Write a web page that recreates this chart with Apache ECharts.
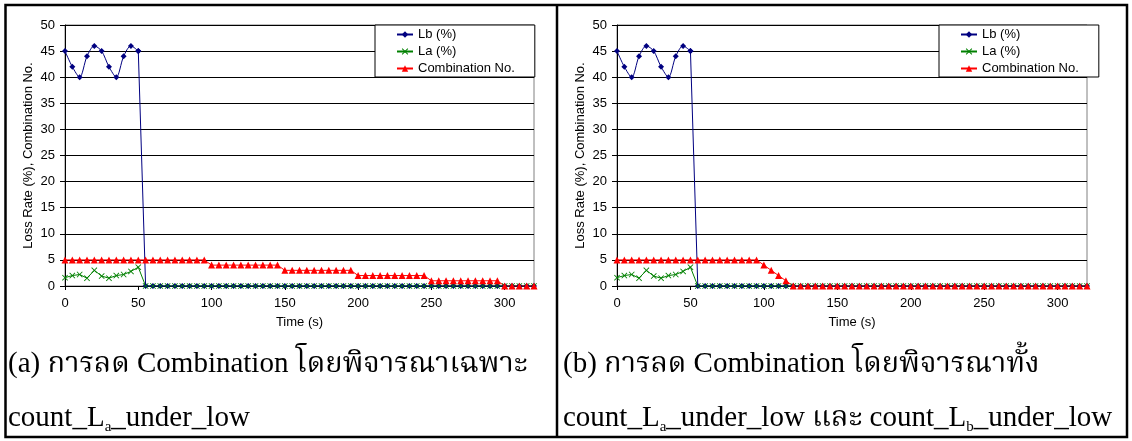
<!DOCTYPE html>
<html>
<head>
<meta charset="utf-8">
<script src="https://cdn.jsdelivr.net/npm/echarts/dist/echarts.min.js"></script>
<style>
  html, body { margin: 0; padding: 0; background: #ffffff; }
  #chart { width: 1132px; height: 441px; }
</style>
</head>
<body>
<div id="chart"></div>
<script>
// Sample times (s)
const timeSec = [0, 5, 10, 15, 20, 25, 30, 35, 40, 45, 50, 55, 60, 65, 70, 75, 80, 85, 90, 95,
  100, 105, 110, 115, 120, 125, 130, 135, 140, 145, 150, 155, 160, 165, 170, 175, 180, 185, 190, 195,
  200, 205, 210, 215, 220, 225, 230, 235, 240, 245, 250, 255, 260, 265, 270, 275, 280, 285, 290, 295,
  300, 305, 310, 315, 320];

// Loss rate of Lb (%)
const lbLoss = [45, 42, 40, 44, 46, 45, 42, 40, 44, 46, 45, 0, 0, 0, 0, 0, 0, 0, 0, 0,
  0, 0, 0, 0, 0, 0, 0, 0, 0, 0, 0, 0, 0, 0, 0, 0, 0, 0, 0, 0,
  0, 0, 0, 0, 0, 0, 0, 0, 0, 0, 0, 0, 0, 0, 0, 0, 0, 0, 0, 0,
  0, 0, 0, 0, 0];

// Loss rate of La (%)
const laLoss = [1.6, 2.0, 2.2, 1.5, 3.0, 1.9, 1.5, 2.0, 2.2, 2.8, 3.6, 0, 0, 0, 0, 0, 0, 0, 0, 0,
  0, 0, 0, 0, 0, 0, 0, 0, 0, 0, 0, 0, 0, 0, 0, 0, 0, 0, 0, 0,
  0, 0, 0, 0, 0, 0, 0, 0, 0, 0, 0, 0, 0, 0, 0, 0, 0, 0, 0, 0,
  0, 0, 0, 0, 0];

// Combination number, (a) reduced on count_La_under_low only
const comboA = [5, 5, 5, 5, 5, 5, 5, 5, 5, 5, 5, 5, 5, 5, 5, 5, 5, 5, 5, 5,
  4, 4, 4, 4, 4, 4, 4, 4, 4, 4, 3, 3, 3, 3, 3, 3, 3, 3, 3, 3,
  2, 2, 2, 2, 2, 2, 2, 2, 2, 2, 1, 1, 1, 1, 1, 1, 1, 1, 1, 1,
  0, 0, 0, 0, 0];

// Combination number, (b) reduced on both count_La_under_low and count_Lb_under_low
const comboB = [5, 5, 5, 5, 5, 5, 5, 5, 5, 5, 5, 5, 5, 5, 5, 5, 5, 5, 5, 5,
  4, 3, 2, 1, 0, 0, 0, 0, 0, 0, 0, 0, 0, 0, 0, 0, 0, 0, 0, 0,
  0, 0, 0, 0, 0, 0, 0, 0, 0, 0, 0, 0, 0, 0, 0, 0, 0, 0, 0, 0,
  0, 0, 0, 0, 0];

const seriesNames = ['Lb (%)', 'La (%)', 'Combination No.'];

// Captions: [style, text] fragments; n = normal text, s = subscript
const captionA1 = [['n', '(a) การลด Combination โดยพิจารณาเฉพาะ']];
const captionA2 = [['n', 'count_L'], ['s', 'a'], ['n', '_under_low']];
const captionB1 = [['n', '(b) การลด Combination โดยพิจารณาทั้ง']];
const captionB2 = [['n', 'count_L'], ['s', 'a'], ['n', '_under_low และ count_L'], ['s', 'b'], ['n', '_under_low']];

const SANS = 'Arial, "Liberation Sans", sans-serif';
const SERIF = '"Times New Roman", "Liberation Serif", "Noto Serif Thai", "Angsana New", serif';
const xSymbol = 'path://M0,1L1,0L5,4L9,0L10,1L6,5L10,9L9,10L5,6L1,10L0,9L4,5Z';

const pairs = (vals, from, to) => timeSec.slice(from, to).map((t, i) => [t, vals[from + i]]);
// last sample of the smooth Lb oscillation before it drops
const lbBreak = lbLoss.indexOf(0) - 1;

const grids = [
  { left: 65, top: 25, width: 469, height: 261 },
  { left: 617, top: 25, width: 470, height: 261 }
];

function axesFor(idx) {
  const x = {
    type: 'value', gridIndex: idx, min: 0, max: 320, interval: 50,
    name: 'Time (s)', nameLocation: 'middle', nameGap: 30,
    nameTextStyle: { fontFamily: SANS, fontSize: 13, color: '#000' },
    axisLine: { show: true, lineStyle: { color: '#000', width: 1 } },
    axisTick: { show: true, inside: false, length: 4, lineStyle: { color: '#000' } },
    axisLabel: { fontFamily: SANS, fontSize: 13, color: '#000', margin: 11,
      showMaxLabel: false, hideOverlap: false },
    splitLine: { show: false }
  };
  const y = {
    type: 'value', gridIndex: idx, min: 0, max: 50, interval: 5,
    name: 'Loss Rate (%), Combination No.', nameLocation: 'middle', nameGap: 30,
    nameTextStyle: { fontFamily: SANS, fontSize: 13, color: '#000' },
    axisLine: { show: true, lineStyle: { color: '#000', width: 1 } },
    axisTick: { show: true, inside: false, length: 5, lineStyle: { color: '#000' } },
    axisLabel: { fontFamily: SANS, fontSize: 13, color: '#000', margin: 10 },
    splitLine: { show: true, lineStyle: { color: '#000', width: 1 } }
  };
  return { x, y };
}

function seriesFor(idx, combo) {
  const common = { xAxisIndex: idx, yAxisIndex: idx, showSymbol: true, showAllSymbol: true,
    animation: false, emphasis: { disabled: true } };
  return [
    Object.assign({}, common, {
      name: seriesNames[0], type: 'line', smooth: 0.3,
      data: pairs(lbLoss, 0, lbBreak + 1),
      symbol: 'diamond', symbolSize: 6,
      lineStyle: { color: '#000080', width: 1 }, itemStyle: { color: '#000080' }
    }),
    Object.assign({}, common, {
      name: seriesNames[0], type: 'line', smooth: false,
      data: pairs(lbLoss, lbBreak, timeSec.length),
      symbol: 'diamond', symbolSize: 6,
      lineStyle: { color: '#000080', width: 1 }, itemStyle: { color: '#000080' }
    }),
    Object.assign({}, common, {
      name: seriesNames[1], type: 'line',
      data: pairs(laLoss, 0, timeSec.length),
      symbol: xSymbol, symbolSize: 6,
      lineStyle: { color: '#008000', width: 1 }, itemStyle: { color: '#008000' }
    }),
    Object.assign({}, common, {
      name: seriesNames[2], type: 'line',
      data: pairs(combo, 0, timeSec.length),
      symbol: 'triangle', symbolSize: 7,
      lineStyle: { color: '#ff0000', width: 1 }, itemStyle: { color: '#ff0000' }
    })
  ];
}

function legendFor(left) {
  return {
    left: left, top: 25, orient: 'vertical',
    data: seriesNames, itemWidth: 16, itemHeight: 8, itemGap: 4,
    padding: [3, 20, 2, 21],
    backgroundColor: '#ffffff', borderColor: '#000', borderWidth: 1, borderRadius: 0,
    textStyle: { fontFamily: SANS, fontSize: 13, color: '#000' },
    selectedMode: false, z: 10
  };
}

const richStyles = {
  n: { fontFamily: SERIF, fontSize: 29, lineHeight: 34, fill: '#000' },
  s: { fontFamily: SERIF, fontSize: 15, lineHeight: 15, verticalAlign: 'bottom', fill: '#000' }
};
const richText = frags => frags.map(f => '{' + f[0] + '|' + f[1] + '}').join('');
const caption = (x, y, frags) => ({
  type: 'text', silent: true, x: x, y: y,
  style: { text: richText(frags), rich: richStyles, textVerticalAlign: 'middle' }
});

const axA = axesFor(0), axB = axesFor(1);
const chart = echarts.init(document.getElementById('chart'), null, { renderer: 'canvas' });
chart.setOption({
  backgroundColor: '#ffffff',
  animation: false,
  grid: grids.map(g => Object.assign({ show: true, borderColor: '#808080', borderWidth: 1,
    backgroundColor: 'transparent', containLabel: false }, g)),
  xAxis: [axA.x, axB.x],
  yAxis: [axA.y, axB.y],
  legend: [legendFor(375), legendFor(939)],
  series: seriesFor(0, comboA).concat(seriesFor(1, comboB)),
  graphic: [
    { type: 'rect', silent: true, z: 100,
      shape: { x: 5.5, y: 5, width: 1121.5, height: 432 },
      style: { fill: 'none', stroke: '#000', lineWidth: 2.5 } },
    { type: 'line', silent: true, z: 100,
      shape: { x1: 557, y1: 5, x2: 557, y2: 437 },
      style: { stroke: '#000', lineWidth: 2.5 } },
    caption(8, 364, captionA1),
    caption(8, 418, captionA2),
    caption(563, 364, captionB1),
    caption(563, 418, captionB2)
  ]
});
</script>
</body>
</html>
